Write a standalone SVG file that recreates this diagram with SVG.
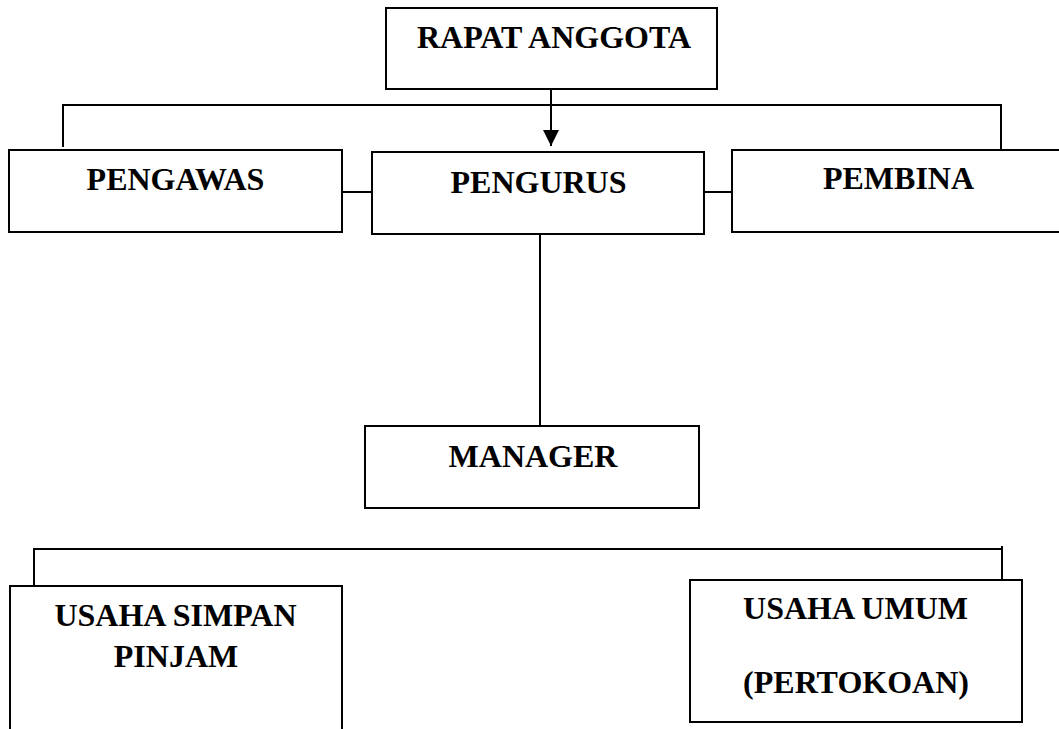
<svg xmlns="http://www.w3.org/2000/svg" width="1059" height="729" viewBox="0 0 1059 729">
<style>
.box{fill:#fff;stroke:#000;stroke-width:2}
.ln{fill:none;stroke:#000;stroke-width:2}
.t{font-family:"Liberation Serif","Times New Roman",serif;font-weight:bold;font-size:32px;fill:#000;text-anchor:middle}
</style>
<defs>
<marker id="arr" viewBox="0 0 16 16" refX="16" refY="8" markerWidth="16" markerHeight="16" markerUnits="userSpaceOnUse" orient="auto">
<path d="M0,0 L16,8 L0,16 Z" fill="#000"/>
</marker>
</defs>
<rect width="1059" height="729" fill="#fff"/>
<g id="connectors">
<polyline class="ln" points="63,147 63,105 1001,105 1001,150"/>
<line class="ln" x1="551" y1="89" x2="551" y2="146" marker-end="url(#arr)"/>
<line class="ln" x1="342" y1="192" x2="372" y2="192"/>
<line class="ln" x1="704" y1="192" x2="732" y2="192"/>
<line class="ln" x1="540" y1="234" x2="540" y2="426"/>
<polyline class="ln" points="34,586 34,549 1002,549 1002,580"/>
<line class="ln" x1="1002" y1="546" x2="1002" y2="549"/>
</g>
<g id="rapat-anggota">
<rect class="box" x="386" y="8" width="331" height="81"/>
<text class="t" x="554" y="48">RAPAT ANGGOTA</text>
</g>
<g id="pengawas">
<rect class="box" x="9" y="150" width="333" height="82"/>
<text class="t" x="175.5" y="190">PENGAWAS</text>
</g>
<g id="pengurus">
<rect class="box" x="372" y="152" width="332" height="82"/>
<text class="t" x="538.5" y="193">PENGURUS</text>
</g>
<g id="pembina">
<rect class="box" x="732" y="150" width="340" height="82"/>
<text class="t" x="898.5" y="189">PEMBINA</text>
</g>
<g id="manager">
<rect class="box" x="365" y="426" width="334" height="82"/>
<text class="t" x="533" y="467">MANAGER</text>
</g>
<g id="usaha-simpan-pinjam">
<polyline class="ln" points="10,729 10,586 342,586 342,729"/>
<text class="t" x="175.5" y="626">USAHA SIMPAN</text>
<text class="t" x="176" y="667">PINJAM</text>
</g>
<g id="usaha-umum">
<rect class="box" x="690" y="580" width="332" height="142"/>
<text class="t" x="855.5" y="619">USAHA UMUM</text>
<text class="t" x="856" y="693">(PERTOKOAN)</text>
</g>
</svg>
